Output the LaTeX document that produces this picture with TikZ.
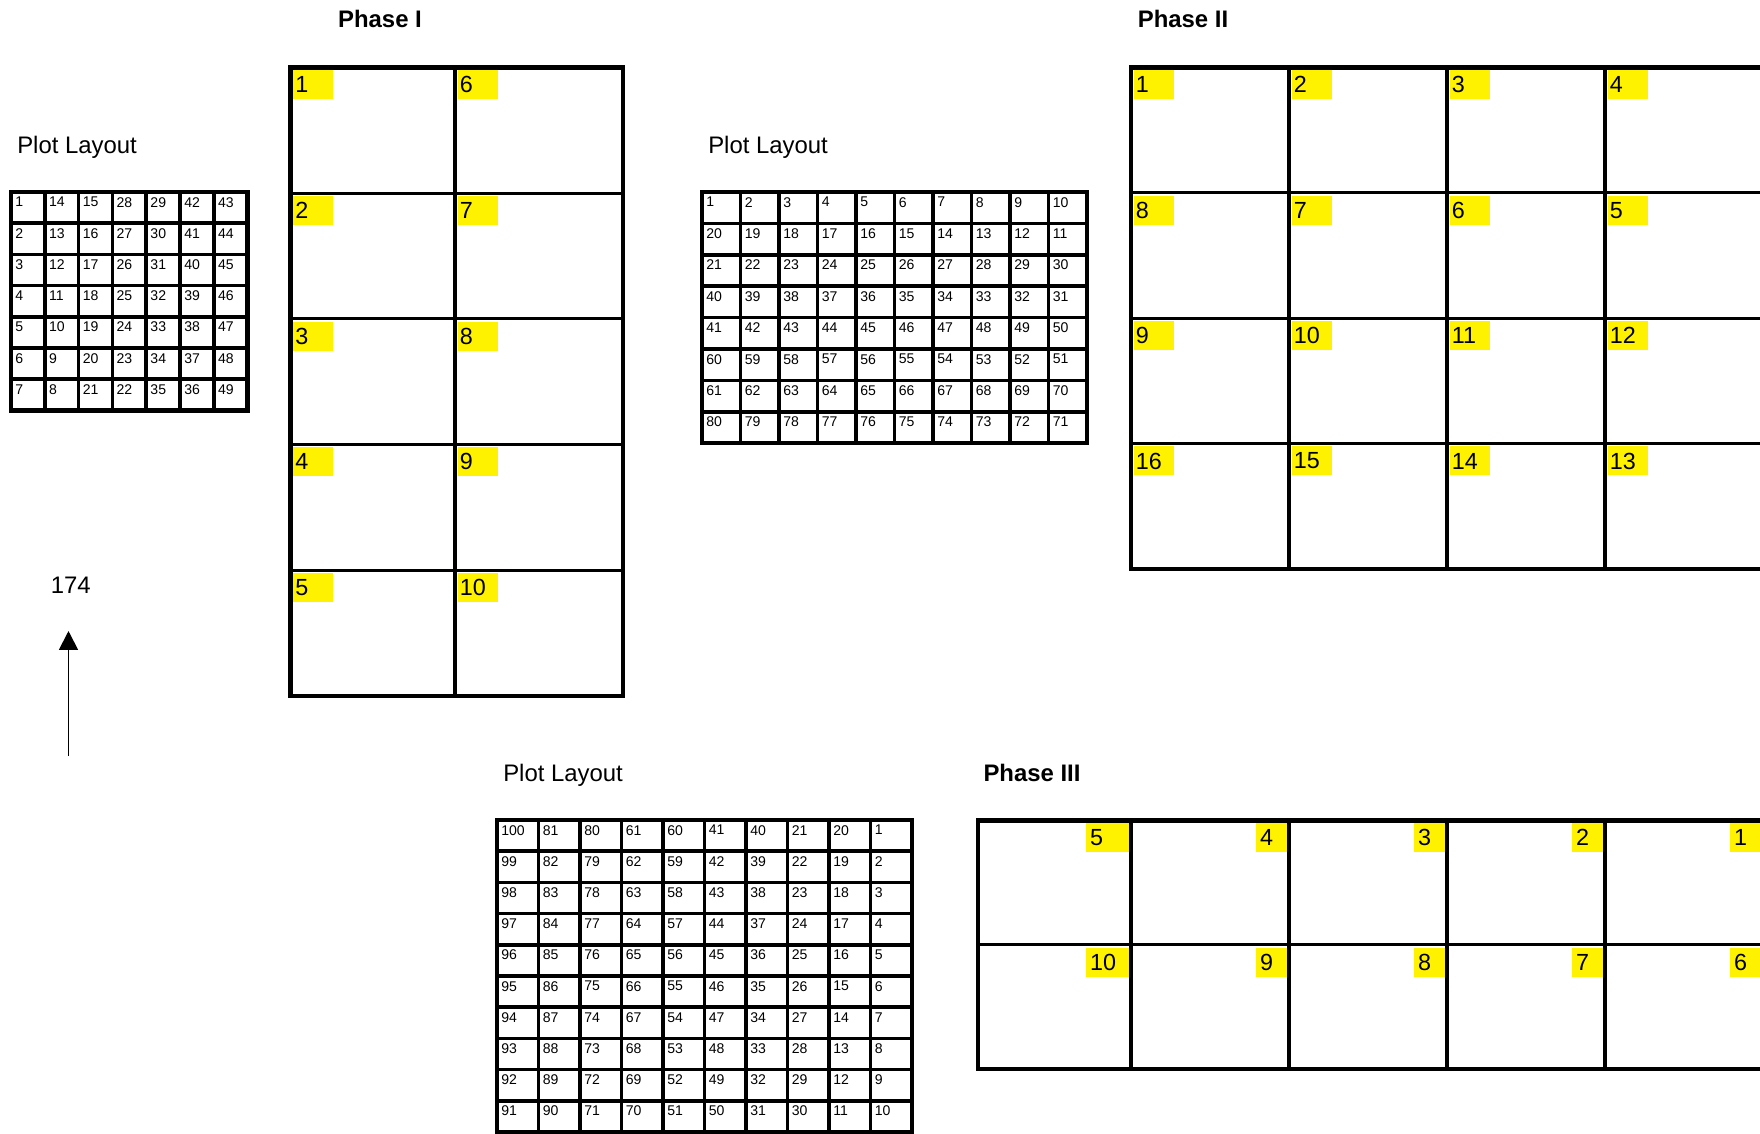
\documentclass[tikz,border=0pt]{standalone}
\usepackage{fontspec}
\setmainfont{Liberation Sans}
\usetikzlibrary{arrows.meta}
\begin{document}
\begin{tikzpicture}[x=0.25mm, y=-0.25mm, >={Triangle[width=13.5pt,length=13.5pt]},
  heading/.style={font=\fontsize{17}{20}\selectfont\bfseries, inner sep=0pt, anchor=base},
  caption/.style={font=\fontsize{17}{20}\selectfont, inner sep=0pt, anchor=base west},
  layoutnum/.style={font=\fontsize{10}{12}\selectfont, inner sep=0pt, anchor=north west},
  plotnum/.style={fill=yellow, font=\fontsize{16.6}{20}\selectfont, inner ysep=0pt, minimum height=7.25mm, align=left},
  thinline/.style={line width=2.2pt},
  layoutline/.style={line width=2.5pt},
  frameline/.style={line width=3.1pt}]
\useasboundingbox (0,0) rectangle (1760,1133);

% titles
\node[heading] (phaseone) at (380,27) {Phase I};
\node[heading] (phasetwo) at (1183,27) {Phase II};
\node[heading] (phasethree) at (1032,781) {Phase III};
\node[caption] (layoutone) at (17,153) {Plot Layout};
\node[caption] (layouttwo) at (708,153) {Plot Layout};
\node[caption] (layoutthree) at (503,781) {Plot Layout};

% north arrow
\node[font=\fontsize{17}{20}\selectfont, inner sep=0pt, anchor=base] (northlabel) at (70.7,593.5) {174};
\coordinate (arrowfoot) at (68.5,756);
\coordinate (arrowtip) at (68.5,631);
\draw[->, line width=1.4pt] (arrowfoot) -- (arrowtip);

% plot layout, 7 x 7
\foreach \c in {0,...,6}
  \foreach \r in {0,...,6} {
    \pgfmathtruncatemacro\n{isodd(\c) ? 7*\c+7-\r : 7*\c+\r+1}
    \node[layoutnum] (lone-\n) at ({11+33.8*\c+4},{192+31.2*\r+5}) {\n};
  }
\foreach \c in {1,...,6} \draw[layoutline] ({11+33.8*\c},192) -- ({11+33.8*\c},410.6);
\foreach \r in {1,...,6} \draw[layoutline] (11,{192+31.2*\r}) -- (247.6,{192+31.2*\r});
\draw[frameline] (11,192) rectangle (247.6,410.6);

% plot layout, 10 x 8
\foreach \c in {0,...,9}
  \foreach \r in {0,...,7} {
    \pgfmathtruncatemacro\n{isodd(\r) ? 10*\r+10-\c : 10*\r+\c+1}
    \node[layoutnum] (ltwo-\n) at ({702+38.5*\c+4},{192+31.4*\r+5}) {\n};
  }
\foreach \c in {1,...,9} \draw[layoutline] ({702+38.5*\c},192) -- ({702+38.5*\c},443.2);
\foreach \r in {1,...,7} \draw[layoutline] (702,{192+31.4*\r}) -- (1087,{192+31.4*\r});
\draw[frameline] (702,192) rectangle (1087,443.2);

% plot layout, 10 x 10
\foreach \c in {0,...,9}
  \foreach \r in {0,...,9} {
    \pgfmathtruncatemacro\k{9-\c}
    \pgfmathtruncatemacro\n{isodd(\k) ? 10*\k+10-\r : 10*\k+\r+1}
    \node[layoutnum] (lthree-\n) at ({497+41.5*\c+4},{820+31.2*\r+5}) {\n};
  }
\foreach \c in {1,...,9} \draw[layoutline] ({497+41.5*\c},820) -- ({497+41.5*\c},1132);
\foreach \r in {1,...,9} \draw[layoutline] (497,{820+31.2*\r}) -- (912,{820+31.2*\r});
\draw[frameline] (497,820) rectangle (912,1132);

% Phase I
\foreach \c in {0,1}
  \foreach \r in {0,...,4} {
    \pgfmathtruncatemacro\n{5*\c+\r+1}
    \node[plotnum, text width=9mm, inner xsep=0.5mm, anchor=north west] (pone-\n) at ({290.5+164.5*\c+2.5},{67.5+125.7*\r+2.5}) {\n};
  }
\foreach \r in {1,...,4} \draw[thinline] (290.5,{67.5+125.7*\r}) -- (623,{67.5+125.7*\r});
\draw[thinline] (455,67.5) -- (455,696);
\draw[frameline] (290.5,67.5) rectangle (623,696);

% Phase II
\foreach \c in {0,...,3}
  \foreach \r in {0,...,3} {
    \pgfmathtruncatemacro\n{isodd(\r) ? 4*\r+4-\c : 4*\r+\c+1}
    \node[plotnum, text width=9mm, inner xsep=0.5mm, anchor=north west] (ptwo-\n) at ({1131+158*\c+2.5},{67.5+125.4*\r+2.5}) {\n};
  }
\foreach \c in {1,...,3} \draw[thinline] ({1131+158*\c},67.5) -- ({1131+158*\c},569);
\foreach \r in {1,...,3} \draw[thinline] (1131,{67.5+125.4*\r}) -- (1763,{67.5+125.4*\r});
\draw[frameline] (1131,67.5) rectangle (1763,569);

% Phase III
\foreach \c/\xr/\w/\s in {0/1131/8.5mm/1.125mm, 1/1289/5.5mm/1.125mm, 2/1447/5.5mm/1.125mm, 3/1605/5.5mm/1.125mm, 4/1763/5.5mm/1.125mm}
  \foreach \r in {0,1} {
    \pgfmathtruncatemacro\n{5*\r+5-\c}
    \node[plotnum, text width=\w, inner xsep=\s, anchor=north east] (pthree-\n) at ({\xr-2},{820.5+124.3*\r+2.5}) {\n};
  }
\foreach \x in {1131,1289,1447,1605} \draw[thinline] (\x,820.5) -- (\x,1069);
\draw[thinline] (978,944.8) -- (1763,944.8);
\draw[frameline] (978,820.5) rectangle (1763,1069);
\end{tikzpicture}
\end{document}
